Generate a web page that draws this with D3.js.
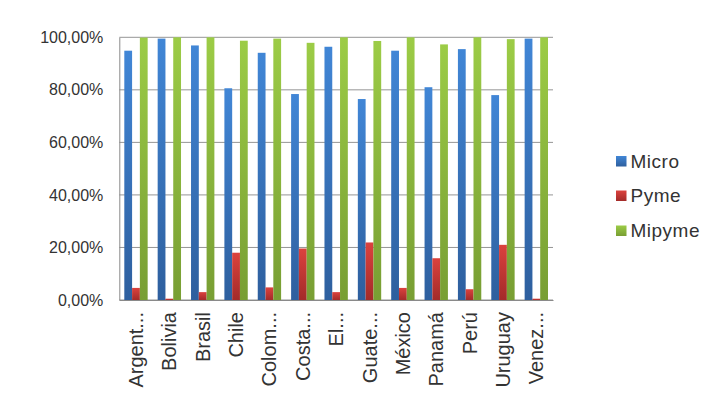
<!DOCTYPE html>
<html><head><meta charset="utf-8">
<script src="https://cdn.jsdelivr.net/npm/d3@7"></script>
<style>body{margin:0;background:#fff}svg{display:block}text{font-family:"Liberation Sans",Arial,sans-serif;fill:#333}</style>
</head><body><svg id="c" width="728" height="402"></svg>
<script>
const categories = ["Argent...","Bolivia","Brasil","Chile","Colom...","Costa...","El...","Guate...","México","Panamá","Perú","Uruguay","Venez..."];
const seriesNames = ["Micro","Pyme","Mipyme"];
const micro  = [94.9, 99.5, 96.9, 80.6, 94.1, 78.4, 96.4, 76.5, 94.9, 81.0, 95.5, 78.0, 99.5];
const pyme   = [4.6, 0.5, 3.0, 18.0, 4.8, 19.6, 3.0, 21.9, 4.6, 15.9, 4.1, 21.0, 0.5];
const mipyme = [99.9, 100, 100, 98.7, 99.5, 97.9, 100, 98.6, 100, 97.3, 100, 99.3, 100];
const yTicks = [0, 20, 40, 60, 80, 100];
const tickLabels = ["0,00%","20,00%","40,00%","60,00%","80,00%","100,00%"];

const series = [micro, pyme, mipyme];
const colors = [["#4186d6","#2e5f9e"],["#db423e","#a32b29"],["#9ccc46","#789e33"]];
const svg = d3.select("#c");
const m = {l:119.3, t:37.3, r:553, b:300};
const x = d3.scaleBand().domain(categories).range([m.l, m.r]).paddingInner(0.3).paddingOuter(0.15);
const xs = d3.scaleBand().domain(seriesNames).range([0, x.bandwidth()]);
const y = d3.scaleLinear().domain([0,100]).range([m.b, m.t]);

const defs = svg.append("defs");
colors.forEach((c,i)=>{
  const g = defs.append("linearGradient").attr("id","g"+i).attr("x1",0).attr("y1",0).attr("x2",0).attr("y2",1);
  g.append("stop").attr("offset","0%").attr("stop-color",c[0]);
  g.append("stop").attr("offset","100%").attr("stop-color",c[1]);
});

// gridlines
svg.append("g").selectAll("line").data(yTicks).join("line")
  .attr("x1", m.l).attr("x2", m.r).attr("y1", d=>y(d)).attr("y2", d=>y(d))
  .attr("stroke","#959595").attr("stroke-width",1);

// y labels
const yAxis = d3.axisLeft(y).tickValues(yTicks).tickSize(0).tickPadding(16)
  .tickFormat((d,i)=>tickLabels[i]);
const ya = svg.append("g").attr("transform",`translate(${m.l},0)`).call(yAxis);
ya.select(".domain").attr("stroke","#8a8a8a");
ya.selectAll("text").attr("font-size","16px").attr("fill","#333")
  .style("font-family","'Liberation Sans',Arial,sans-serif");

// bars
series.forEach((vals,si)=>{
  svg.append("g").selectAll("rect").data(vals).join("rect")
    .attr("x",(d,i)=>x(categories[i]) + xs(seriesNames[si]))
    .attr("width", xs.bandwidth())
    .attr("y", d=>y(d)).attr("height", d=>y(0)-y(d))
    .attr("fill", `url(#g${si})`);
});

// x axis
const xAxis = d3.axisBottom(x).tickSize(0).tickPadding(0);
const xa = svg.append("g").attr("transform",`translate(0,${m.b})`).call(xAxis);
xa.select(".domain").attr("stroke","#8a8a8a");
xa.selectAll("text").attr("font-size","20px").attr("fill","#333")
  .style("font-family","'Liberation Sans',Arial,sans-serif")
  .attr("text-anchor","end").attr("transform","rotate(-90)")
  .attr("x",-12).attr("y",0).attr("dy","0.35em");

// legend
const ly = [161, 195.5, 230.5];
const lg = svg.append("g");
seriesNames.forEach((n,i)=>{
  lg.append("rect").attr("x",616).attr("y",ly[i]-5).attr("width",10.5).attr("height",10.5)
    .attr("fill",`url(#g${i})`);
  lg.append("text").attr("x",630.5).attr("y",ly[i]).attr("dy","0.36em")
    .attr("font-size","19px").attr("letter-spacing","0.5px").text(n);
});
</script></body></html>
